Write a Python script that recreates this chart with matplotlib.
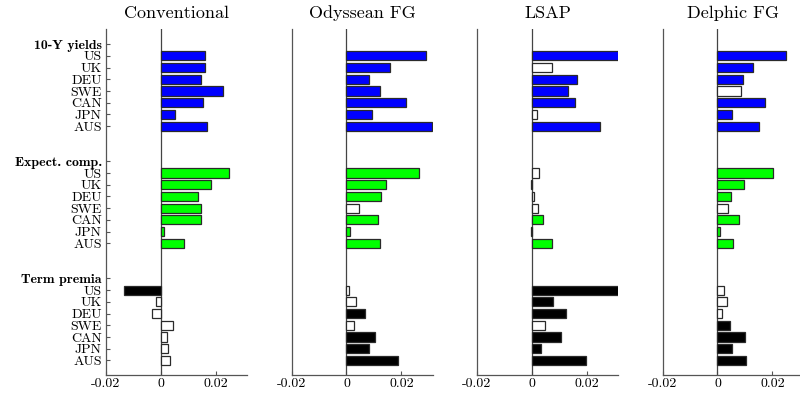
import matplotlib
matplotlib.use("Agg")
import matplotlib.pyplot as plt
import numpy as np

countries = ["US", "UK", "DEU", "SWE", "CAN", "JPN", "AUS"]
groups = ["10-Y yields", "Expect. comp.", "Term premia"]
panels = ["Conventional", "Odyssean FG", "LSAP", "Delphic FG"]

# values[panel][group] -> 7 countries
yields = {
    "Conventional": [0.0159, 0.0160, 0.0144, 0.0225, 0.0153, 0.0052, 0.0166],
    "Odyssean FG":  [0.0291, 0.0160, 0.0081, 0.0121, 0.0215, 0.0093, 0.0312],
    "LSAP":         [0.0316, 0.0072, 0.0165, 0.0130, 0.0156, 0.0018, 0.0247],
    "Delphic FG":   [0.0250, 0.0130, 0.0093, 0.0085, 0.0172, 0.0053, 0.0152],
}
expect = {
    "Conventional": [0.0248, 0.0181, 0.0135, 0.0145, 0.0144, 0.0012, 0.0082],
    "Odyssean FG":  [0.0263, 0.0142, 0.0124, 0.0045, 0.0115, 0.0013, 0.0122],
    "LSAP":         [0.0024, -0.0002, 0.0007, 0.0023, 0.0041, -0.0005, 0.0074],
    "Delphic FG":   [0.0201, 0.0097, 0.0050, 0.0038, 0.0080, 0.0010, 0.0055],
}
premia = {
    "Conventional": [-0.0136, -0.0018, -0.0033, 0.0042, 0.0021, 0.0024, 0.0032],
    "Odyssean FG":  [0.0010, 0.0036, 0.0067, 0.0028, 0.0103, 0.0081, 0.0187],
    "LSAP":         [0.0318, 0.0078, 0.0125, 0.0046, 0.0105, 0.0034, 0.0195],
    "Delphic FG":   [0.0022, 0.0036, 0.0018, 0.0047, 0.0100, 0.0052, 0.0104],
}
# significance (1 = filled, 0 = white)
sig_yields = {
    "Conventional": [1, 1, 1, 1, 1, 1, 1],
    "Odyssean FG":  [1, 1, 1, 1, 1, 1, 1],
    "LSAP":         [1, 0, 1, 1, 1, 0, 1],
    "Delphic FG":   [1, 1, 1, 0, 1, 1, 1],
}
sig_expect = {
    "Conventional": [1, 1, 1, 1, 1, 1, 1],
    "Odyssean FG":  [1, 1, 1, 0, 1, 1, 1],
    "LSAP":         [0, 1, 0, 0, 1, 1, 1],
    "Delphic FG":   [1, 1, 1, 0, 1, 1, 1],
}
sig_premia = {
    "Conventional": [1, 0, 0, 0, 0, 0, 0],
    "Odyssean FG":  [0, 0, 1, 0, 1, 1, 1],
    "LSAP":         [1, 1, 1, 0, 1, 1, 1],
    "Delphic FG":   [0, 0, 0, 1, 1, 1, 1],
}
group_colors = ["#0000ff", "#00ff00", "#000000"]
xticks = [-0.02, 0, 0.02]
xticklabels = ["-0.02", "0", "0.02"]

fig = plt.figure(figsize=(8, 3.93), dpi=100)

W = 141 / 800
lefts = [106 / 800, 291.5 / 800, 477 / 800, 662.5 / 800]
bottom = 1 - 375 / 393
top = 1 - 29 / 393

# y positions: header at 0,10,20 ; countries follow
ytick_pos = []
ytick_lab = []
for g, name in enumerate(groups):
    ytick_pos.append(g * 10)
    ytick_lab.append(name)
    for c, cn in enumerate(countries):
        ytick_pos.append(g * 10 + 1 + c)
        ytick_lab.append(cn)

edge = "#2a2a2a"
for p, pname in enumerate(panels):
    ax = fig.add_axes([lefts[p], bottom, W, top - bottom])
    data = [yields[pname], expect[pname], premia[pname]]
    sigs = [sig_yields[pname], sig_expect[pname], sig_premia[pname]]
    for g in range(3):
        pos = [g * 10 + 1 + c for c in range(7)]
        cols = [group_colors[g] if s else "white" for s in sigs[g]]
        ax.barh(pos, data[g], height=0.78, color=cols, edgecolor=edge, linewidth=0.9, zorder=3)
    ax.axvline(0, color="#444444", lw=0.9, zorder=2)
    ax.set_xlim(-0.02, 0.0313)
    ax.set_ylim(28.25, -1.3)
    for s in ["top", "right"]:
        ax.spines[s].set_visible(False)
    for s in ["left", "bottom"]:
        ax.spines[s].set_color("#555555")
        ax.spines[s].set_linewidth(0.9)
    ax.set_xticks(xticks)
    ax.set_xticklabels(xticklabels, fontfamily="cmr10", fontsize=10)
    ax.tick_params(axis="x", direction="in", length=3, color="#555555", pad=2)
    ax.set_title(pname, fontfamily="cmr10", fontsize=13, pad=8)
    if p == 0:
        ax.set_yticks(ytick_pos)
        ax.set_yticklabels(ytick_lab, fontsize=10)
        for t in ax.get_yticklabels():
            if t.get_text() in groups:
                t.set_fontfamily("cmb10")
                t.set_fontsize(10)
            else:
                t.set_fontfamily("cmr10")
        ax.tick_params(axis="y", direction="in", length=3, color="#555555", pad=3)
    else:
        ax.set_yticks([])

fig.savefig("out.png", dpi=100)
